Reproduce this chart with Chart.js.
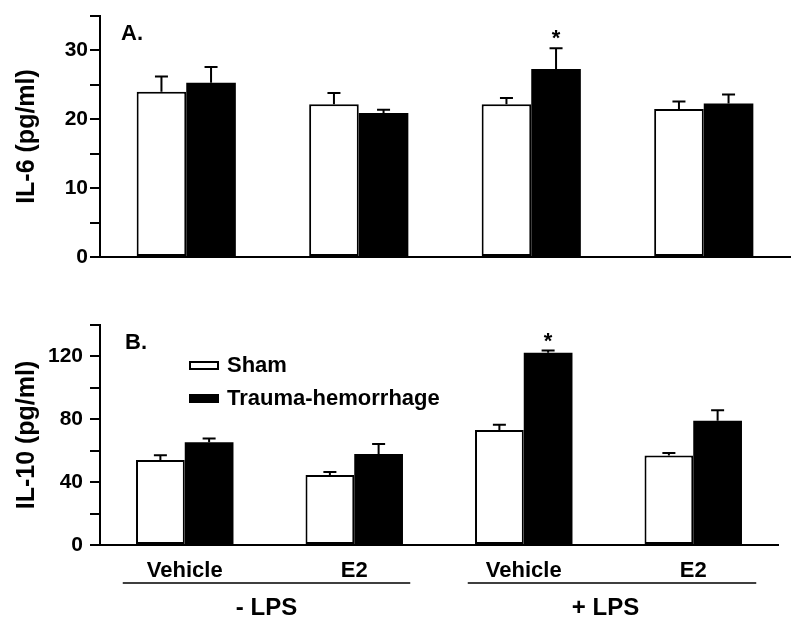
<!DOCTYPE html>
<html lang="en">
<head>
<meta charset="UTF-8">
<title>IL-6 and IL-10</title>
<script src="https://cdn.jsdelivr.net/npm/chart.js"></script>
<style>
  body { margin: 0; background: #fff; }
  #wrap { position: relative; width: 799px; height: 627px; }
  canvas { position: absolute; left: 0; }
  #chartA { top: 0; }
  #chartB { top: 300px; }
</style>
</head>
<body>
<div id="wrap">
  <canvas id="chartA" width="799" height="280"></canvas>
  <canvas id="chartB" width="799" height="327"></canvas>
</div>
<script>
// values (mean, SEM)
const groups = ['Vehicle', 'E2', 'Vehicle', 'E2'];
const lpsLabels = ['- LPS', '+ LPS'];
const seriesNames = ['Sham', 'Trauma-hemorrhage'];

const il6Sham = [24.0, 22.2, 22.2, 21.5];
const il6ShamErr = [2.2, 1.6, 0.9, 1.1];
const il6Trauma = [25.3, 20.9, 27.3, 22.3];
const il6TraumaErr = [2.3, 0.5, 3.0, 1.3];
const il6Star = [false, false, true, false];
const il6Ticks = [0, 10, 20, 30];

const il10Sham = [54.1, 44.6, 73.2, 56.9];
const il10ShamErr = [3.0, 1.9, 3.4, 1.7];
const il10Trauma = [65.4, 57.9, 122.4, 79.0];
const il10TraumaErr = [2.3, 6.4, 1.3, 6.8];
const il10Star = [false, false, true, false];
const il10Ticks = [0, 40, 80, 120];

const FONT = "'Liberation Sans', Arial, Helvetica, sans-serif";
Chart.defaults.font.family = FONT;
Chart.defaults.font.weight = 'bold';
Chart.defaults.color = '#000';

// error bars, stars, panel letter, legend, LPS brackets
const extras = {
    id: 'extras',
    afterDatasetsDraw(chart, args, opts) {
        const {ctx, chartArea, scales: {x, y}} = chart;
        ctx.save();
        ctx.strokeStyle = '#000';
        ctx.fillStyle = '#000';
        ctx.lineWidth = 2;
        chart.data.datasets.forEach((ds, i) => {
            chart.getDatasetMeta(i).data.forEach((bar, j) => {
                const top = y.getPixelForValue(ds.data[j] + opts.errors[i][j]);
                ctx.beginPath();
                ctx.moveTo(bar.x, bar.y);
                ctx.lineTo(bar.x, top);
                ctx.moveTo(bar.x - 6.5, top);
                ctx.lineTo(bar.x + 6.5, top);
                ctx.stroke();
                if (opts.stars[i] && opts.stars[i][j]) {
                    ctx.font = 'bold 22px ' + FONT;
                    ctx.textAlign = 'center';
                    ctx.textBaseline = 'alphabetic';
                    ctx.fillText('*', bar.x, top - 3);
                }
            });
        });

        ctx.font = 'bold 22px ' + FONT;
        ctx.textAlign = 'left';
        ctx.textBaseline = 'middle';
        ctx.fillText(opts.letter, chartArea.left + opts.letterDx, chartArea.top + 18);

        if (opts.legend) {
            const lx = 189, ly = chartArea.top + 36;
            ctx.font = 'bold 22px ' + FONT;
            chart.data.datasets.forEach((ds, i) => {
                const by = ly + i * 33;
                ctx.fillStyle = ds.backgroundColor;
                ctx.fillRect(lx, by, 30, 9);
                ctx.strokeRect(lx + 1, by + 1, 28, 7);
                ctx.fillStyle = '#000';
                ctx.fillText(ds.label, lx + 38, by + 5);
            });
        }

        if (opts.lps) {
            const c = groups.map((g, i) => x.getPixelForValue(i));
            const ly = chartArea.bottom + 38;
            ctx.lineWidth = 1.5;
            ctx.beginPath();
            ctx.moveTo(c[0] - 62, ly); ctx.lineTo(c[1] + 56, ly);
            ctx.moveTo(c[2] - 56, ly); ctx.lineTo(c[3] + 63, ly);
            ctx.stroke();
            ctx.font = 'bold 24px ' + FONT;
            ctx.textAlign = 'center';
            ctx.fillText(lpsLabels[0], (c[0] + c[1]) / 2 - 3, ly + 25);
            ctx.fillText(lpsLabels[1], (c[2] + c[3]) / 2 - 3, ly + 25);
        }
        ctx.restore();
    }
};

function makeChart(id, cfg) {
    return new Chart(document.getElementById(id), {
        type: 'bar',
        data: {
            labels: groups,
            datasets: [{
                label: seriesNames[0],
                data: cfg.sham,
                backgroundColor: '#ffffff',
                borderColor: '#000',
                borderWidth: 2,
                borderSkipped: false
            }, {
                label: seriesNames[1],
                data: cfg.trauma,
                backgroundColor: '#000000',
                borderColor: '#000',
                borderWidth: 0
            }]
        },
        options: {
            responsive: false,
            animation: false,
            events: [],
            layout: {padding: cfg.padding},
            datasets: {bar: {categoryPercentage: 0.575, barPercentage: 1.0}},
            plugins: {
                legend: {display: false},
                tooltip: {enabled: false},
                extras: cfg.extras
            },
            scales: {
                x: {
                    grid: {display: false, drawTicks: false},
                    border: {display: true, color: '#000', width: 2},
                    ticks: {display: cfg.xLabels, padding: 13, font: {size: 22}},
                    afterFit: s => { s.height = cfg.xHeight; }
                },
                y: {
                    min: 0,
                    max: cfg.max,
                    grid: {drawOnChartArea: false, color: '#000', lineWidth: 2, tickLength: 10},
                    border: {display: true, color: '#000', width: 2},
                    ticks: {
                        stepSize: cfg.step,
                        padding: cfg.tickPad,
                        font: {size: 21},
                        callback: v => cfg.ticks.includes(v) ? v : ''
                    },
                    title: {display: true, text: cfg.title, font: {size: 25}, padding: {top: 12, bottom: 0}},
                    afterFit: s => { s.width = 100; }
                }
            }
        },
        plugins: [extras]
    });
}

makeChart('chartA', {
    sham: il6Sham, trauma: il6Trauma,
    max: 35, step: 5, ticks: il6Ticks,
    title: 'IL-6 (pg/ml)',
    tickPad: 2,
    xLabels: false, xHeight: 23,
    padding: {left: 0, right: 9, top: 16, bottom: 0},
    extras: {errors: [il6ShamErr, il6TraumaErr], stars: [null, il6Star], letter: 'A.', letterDx: 21, legend: false, lps: false}
});

makeChart('chartB', {
    sham: il10Sham, trauma: il10Trauma,
    max: 140, step: 20, ticks: il10Ticks,
    title: 'IL-10 (pg/ml)',
    tickPad: 7,
    xLabels: true, xHeight: 82,
    padding: {left: 0, right: 21, top: 25, bottom: 0},
    extras: {errors: [il10ShamErr, il10TraumaErr], stars: [null, il10Star], letter: 'B.', letterDx: 25, legend: true, lps: true}
});
</script>
</body>
</html>
